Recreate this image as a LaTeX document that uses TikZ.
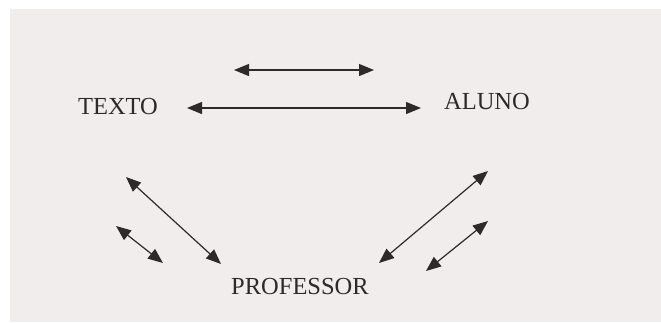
\documentclass[tikz,border=0pt]{standalone}
\usepackage{fontspec}
\setmainfont{Liberation Serif}
\usetikzlibrary{arrows.meta}

\definecolor{paper}{RGB}{241,237,237}
\definecolor{ink}{RGB}{45,42,42}

\begin{document}
\begin{tikzpicture}[x=1pt, y=-1pt, >={Triangle[length=15pt,width=12pt]},
    every node/.style={font=\fontsize{24.5}{29}\selectfont, text=ink, inner sep=0pt},
    link/.style={<->, line width=1.2pt, draw=ink}]

  % page
  \useasboundingbox (0,0) rectangle (661,322);
  \fill[white] (0,0) rectangle (661,322);
  \fill[paper] (10,9) rectangle (661,322);

  % the three parts
  \node (texto) at (118,106.5) {TEXTO};
  \node (aluno) at (487,101.5) {ALUNO};
  \node (prof) at (300,286.5) {PROFESSOR};

  % arrow ends
  \coordinate (t1) at (234,70);   \coordinate (a1) at (374,70);
  \coordinate (t2) at (187,108);  \coordinate (a2) at (421,108);
  \coordinate (t3) at (126,177);  \coordinate (p3) at (221,264);
  \coordinate (t4) at (116,226);  \coordinate (p4) at (163,263);
  \coordinate (a5) at (488,171);  \coordinate (p5) at (379,263);
  \coordinate (a6) at (488,221);  \coordinate (p6) at (426,271);

  \draw[link] (t1) -- (a1);
  \draw[link] (t2) -- (a2);
  \draw[link] (t3) -- (p3);
  \draw[link] (t4) -- (p4);
  \draw[link] (a5) -- (p5);
  \draw[link] (a6) -- (p6);
\end{tikzpicture}
\end{document}
